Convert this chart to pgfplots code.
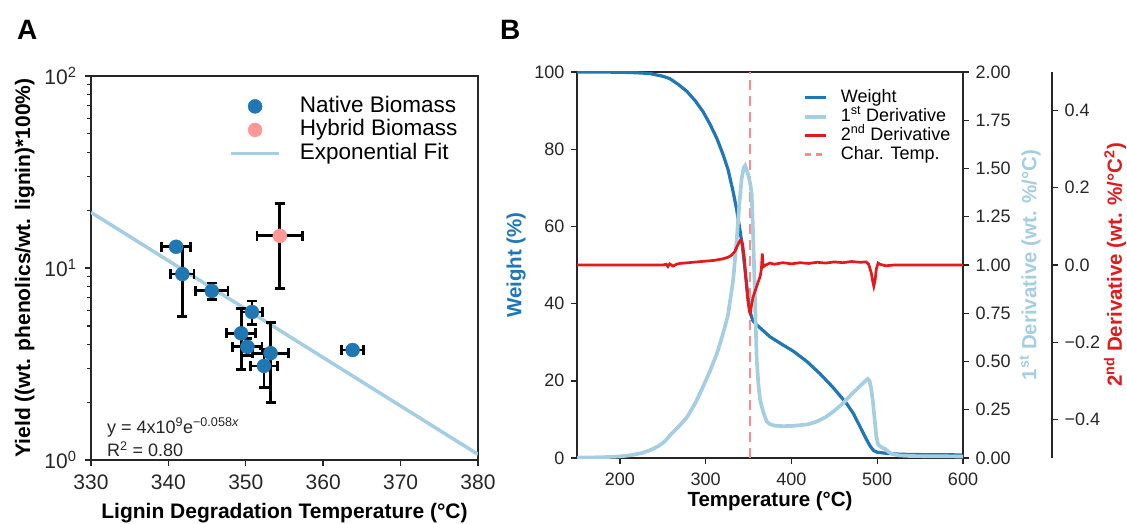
\documentclass[border=0pt]{standalone}
\usepackage{fontspec}
\setmainfont{Liberation Sans}
\usepackage{pgfplots}
\pgfplotsset{compat=1.18}

\definecolor{nblue}{RGB}{31,119,180}
\definecolor{hpink}{RGB}{255,152,150}
\definecolor{lblue}{RGB}{166,206,227}
\definecolor{dred}{RGB}{227,26,28}
\definecolor{chred}{RGB}{255,138,138}
\definecolor{axgray}{RGB}{38,38,38}

\pgfplotsset{
  every axis/.append style={
    scale only axis,
    axis line style={axgray, line width=1.4pt},
    tick style={axgray, line width=1.4pt},
    tick align=outside,
    major tick length=6pt,
    minor tick length=3.5pt,
    ticklabel style={text=axgray},
  },
}

\begin{document}
\begin{tikzpicture}[x=1pt,y=1pt]
\useasboundingbox (0,0) rectangle (1127,523);
\node[anchor=base west, inner sep=0pt, font=\fontsize{28}{28}\selectfont\bfseries] at (17,483) {A};
\node[anchor=base west, inner sep=0pt, font=\fontsize{28}{28}\selectfont\bfseries] at (500,483) {B};

% ---------- panel A ----------
\begin{axis}[
  at={(91pt,63pt)}, anchor=south west,
  width=387pt, height=384pt,
  ymode=log,
  xmin=330, xmax=380, ymin=1, ymax=100,
  xtick={330,340,350,360,370,380},
  xticklabels={330,340,350,360,370,380},
  ytick={1,10,100},
  yticklabels={10\textsuperscript{0},10\textsuperscript{1},10\textsuperscript{2}},
  minor ytick={2,3,4,5,6,7,8,9,20,30,40,50,60,70,80,90},
  xtick pos=left, ytick pos=left,
  ticklabel style={font=\fontsize{21}{21}\selectfont},
  xticklabel style={yshift=-5pt},
  yticklabel style={xshift=-5pt},
  label style={font=\fontsize{21}{21}\selectfont\bfseries},
  xlabel={Lignin Degradation Temperature (°C)},
  ylabel={Yield ((wt. phenolics/wt. lignin)*100\%)},
  xlabel style={at={(axis description cs:0.5,-0.138)}, anchor=center},
  ylabel style={at={(axis description cs:-0.171,0.5)}, anchor=center},
  legend image code/.code={\draw[mark repeat=2,mark phase=2,#1] plot coordinates {(0pt,0pt) (24pt,0pt) (48pt,0pt)};},
  legend style={at={(axis description cs:0.357,0.948)}, anchor=north west,
    draw=none, fill=none, inner sep=0pt,
    font=\fontsize{22.5}{22.5}\selectfont,
    nodes={inner sep=0pt, text height=16pt, text depth=4.5pt},
    row sep=3pt, cells={anchor=west},
    /tikz/every odd column/.append style={column sep=19pt}},
]
\addlegendimage{only marks, mark=*, mark size=7pt, mark options={fill=nblue, draw=nblue}}
\addlegendimage{only marks, mark=*, mark size=7pt, mark options={fill=hpink, draw=hpink}}
\addplot[lblue, line width=3.5pt] coordinates {(330,19.5) (380,1.07)};
\addplot[only marks, mark=*, mark size=7pt, mark options={fill=nblue, draw=nblue},
  error bars/.cd, x dir=both, x explicit, y dir=both, y explicit,
  error bar style={line width=2.8pt, black},
  error mark options={rotate=90, line width=2.8pt, black, mark size=5pt}]
  table[x=x, y=y, x error=ex, y error=ey] {
  x      y     ex    ey
  341.0  12.9  1.9   0.5
  341.8  9.3   1.5   3.7
  345.6  7.6   2.1   0.75
  350.8  5.9   1.4   0.83
  349.4  4.57  1.85  1.6
  350.2  3.89  1.9   0.4
  353.2  3.60  2.3   1.6
  352.35 3.09  1.75  0.7
  363.8  3.74  1.4   0.15
};
\addplot[only marks, mark=*, mark size=7pt, mark options={fill=hpink, draw=hpink},
  error bars/.cd, x dir=both, x explicit, y dir=both, y explicit,
  error bar style={line width=2.8pt, black},
  error mark options={rotate=90, line width=2.8pt, black, mark size=5pt}]
  table[x=x, y=y, x error=ex, y error=ey] {
  x      y     ex    ey
  354.4  14.7  2.95  6.9
};
\legend{Native Biomass, Hybrid Biomass, Exponential Fit}
\node[anchor=base west, inner sep=0pt, font=\fontsize{18}{18}\selectfont, text=axgray]
  at (rel axis cs:0.041,0.070) {y = 4x10\textsuperscript{9}e\textsuperscript{−0.058\textit{x}}};
\node[anchor=base west, inner sep=0pt, font=\fontsize{18}{18}\selectfont, text=axgray]
  at (rel axis cs:0.041,0.009) {R\textsuperscript{2} = 0.80};
\end{axis}

% ---------- panel B: weight ----------
\begin{axis}[
  at={(577pt,65pt)}, anchor=south west,
  width=386pt, height=386pt,
  xmin=150, xmax=600, ymin=0, ymax=100,
  xtick={200,300,400,500,600}, xticklabels={200,300,400,500,600},
  ytick={0,20,40,60,80,100}, yticklabels={0,20,40,60,80,100},
  xtick pos=left, ytick pos=left,
  ticklabel style={font=\fontsize{18}{18}\selectfont},
  xticklabel style={yshift=-5pt},
  yticklabel style={xshift=-3pt},
  label style={font=\fontsize{20.5}{20.5}\selectfont\bfseries},
  xlabel={Temperature (°C)},
  ylabel={Weight (\%)},
  xlabel style={at={(axis description cs:0.5,-0.111)}, anchor=center},
  ylabel style={at={(axis description cs:-0.158,0.5)}, anchor=center, text=nblue},
]
\addplot[nblue, line width=3.2pt] table {
150 100
200 99.95
220 99.8
235 99.6
250 98.9
258 98.3
268 96.8
278 95.0
288 92.5
297 89.7
305 86.5
313 82.8
320 78.8
326 74.8
332 69.0
336 64.5
340 59.0
343 54.5
346 48.5
349 42.5
352 37.6
355 35.6
360 34.4
365 33.4
375 31.4
390 29.3
402 27.7
418 25.0
433 21.9
448 18.4
464 14.2
472 11.6
480 8.1
487 5.0
492 3.0
496 1.9
500 1.5
511 1.2
525 1.0
540 0.9
600 0.8
};
\addplot[chred, line width=2.6pt, dash pattern=on 10pt off 6pt] coordinates {(351.5,0) (351.5,100)};
\end{axis}

% ---------- panel B: 1st derivative ----------
\begin{axis}[
  at={(577pt,65pt)}, anchor=south west,
  width=386pt, height=386pt,
  xmin=150, xmax=600, ymin=0, ymax=2,
  axis x line=none, axis y line*=right, y axis line style={-},
  ytick={0,0.25,0.5,0.75,1,1.25,1.5,1.75,2},
  yticklabels={0.00,0.25,0.50,0.75,1.00,1.25,1.50,1.75,2.00},
  ytick pos=right,
  ticklabel style={font=\fontsize{18}{18}\selectfont},
  yticklabel style={xshift=3pt},
  ylabel={1\textsuperscript{st} Derivative (wt. \%/°C)},
  ylabel style={font=\fontsize{20.5}{20.5}\selectfont\bfseries, text=lblue,
    at={(axis description cs:1.174,0.5)}, anchor=center},
]
\addplot[lblue, line width=3.7pt] table {
150 0.002
180 0.004
200 0.008
212 0.014
225 0.025
235 0.040
245 0.062
252 0.085
256 0.105
260 0.125
268 0.160
278 0.210
288 0.285
297 0.370
305 0.450
313 0.540
320 0.640
326 0.740
332 0.920
336 1.120
339 1.300
342 1.450
344.5 1.505
346 1.515
348 1.490
350 1.460
352 1.420
353.6 1.370
355 1.200
357 0.900
359.5 0.510
361.5 0.380
363.5 0.300
367 0.240
371 0.190
375 0.175
380 0.168
390 0.165
400 0.166
410 0.170
420 0.175
430 0.190
440 0.212
450 0.245
460 0.283
470 0.330
478 0.365
484 0.390
489 0.410
491 0.400
493 0.360
495 0.290
497 0.200
499 0.110
501 0.070
505 0.055
509 0.048
513 0.032
518 0.020
526 0.013
540 0.010
600 0.008
};
\end{axis}

% ---------- panel B: 2nd derivative + legend ----------
\begin{axis}[
  at={(577pt,65pt)}, anchor=south west,
  width=386pt, height=386pt,
  xmin=150, xmax=600, ymin=-0.5, ymax=0.5,
  hide axis,
  legend image code/.code={\draw[#1] (0pt,0pt) -- (21pt,0pt);},
  legend style={at={(axis description cs:0.5855,0.956)}, anchor=north west,
    draw=none, fill=none, inner sep=0pt,
    font=\fontsize{18}{18}\selectfont,
    nodes={inner sep=0pt, text height=13pt, text depth=4pt},
    row sep=2pt, cells={anchor=west},
    /tikz/every odd column/.append style={column sep=13pt}},
]
\addlegendimage{nblue, line width=3.2pt}
\addlegendimage{lblue, line width=3.7pt}
\addplot[dred, line width=2.7pt] table {
150 0
250 0
254 0.002
256 -0.004
258 0.003
262 -0.003
266 0.002
270 0.004
280 0.006
290 0.008
300 0.010
310 0.012
320 0.016
326 0.020
330 0.025
334 0.035
337 0.050
340 0.063
341.5 0.065
343 0.055
345 0.020
347 -0.040
349 -0.090
351 -0.120
352 -0.125
353 -0.110
355 -0.085
358 -0.065
361 -0.045
363.5 -0.030
365 -0.010
366 0.030
367 -0.005
370 0.000
375 0.005
380 0.002
390 0.006
400 0.003
410 0.006
420 0.004
430 0.007
440 0.005
450 0.008
460 0.006
470 0.009
480 0.007
487 0.008
490 0.002
493 -0.020
495 -0.045
496 -0.055
497.5 -0.040
499 -0.010
501 0.005
503 0.002
510 -0.002
520 0.000
600 0.000
};
\addlegendimage{chred, line width=2.6pt, dash pattern=on 6pt off 5pt}
\legend{Weight, 1\textsuperscript{st} Derivative, 2\textsuperscript{nd} Derivative, Char. Temp.}
\end{axis}

% ---------- panel B: offset 2nd-derivative spine ----------
\begin{axis}[
  at={(1051pt,65pt)}, anchor=south west,
  width=1pt, height=386pt,
  xmin=0, xmax=1, ymin=-0.5, ymax=0.5,
  axis x line=none, axis y line*=right, y axis line style={-},
  ytick={-0.4,-0.2,0,0.2,0.4},
  yticklabels={−0.4,−0.2,0.0,0.2,0.4},
  ytick pos=right,
  ticklabel style={font=\fontsize{18}{18}\selectfont},
  yticklabel style={xshift=3pt},
  ylabel={2\textsuperscript{nd} Derivative (wt. \%/°C\textsuperscript{2})},
  ylabel style={font=\fontsize{20.5}{20.5}\selectfont\bfseries, text=dred,
    at={(axis description cs:64,0.5)}, anchor=center},
]
\end{axis}
\end{tikzpicture}
\end{document}
